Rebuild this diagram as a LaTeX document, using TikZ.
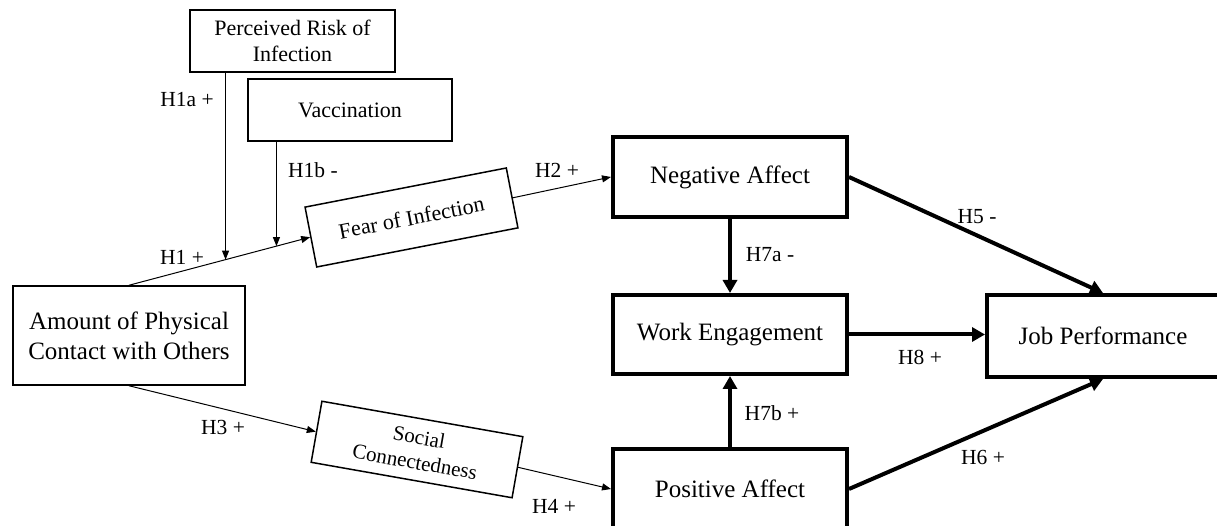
\documentclass[tikz,border=0pt]{standalone}
\usepackage{fontspec}
\setmainfont{Liberation Serif}
\usetikzlibrary{arrows.meta,calc}
\tikzset{
  smallbox/.style={draw, line width=1.5pt, align=center, inner sep=0pt,
    font=\fontsize{22}{26}\selectfont, minimum width=205pt, minimum height=62pt},
  bigbox/.style={draw, line width=4pt, inner sep=0pt,
    font=\fontsize{25}{30}\selectfont, minimum width=234pt, minimum height=80pt},
  thinarrow/.style={-{Triangle[length=9pt,width=7pt]}, line width=1pt},
  thickarrow/.style={-{Triangle[length=13pt,width=14pt]}, line width=4pt},
  hyplabel/.style={font=\fontsize{21.5}{26}\selectfont, inner sep=0pt},
}
\begin{document}
\begin{tikzpicture}[x=1pt, y=1pt]
    \useasboundingbox (0,0) rectangle (1217,526);
    % left part
    \node[smallbox] (risk) at (292.5,485) {Perceived Risk of\\Infection};
    \node[smallbox, minimum width=204pt] (vacc) at (350,416) {Vaccination};
    \node[smallbox, minimum width=232pt, minimum height=99pt, font=\fontsize{25}{30}\selectfont]
      (amount) at (129,190.5) {Amount of Physical\\Contact with Others};
    \node[smallbox, rotate=11, minimum height=61pt] (fear) at (411.5,308.5) {Fear of Infection};
    \node[smallbox, rotate=-10, minimum width=204pt, font=\fontsize{21}{25}\selectfont]
      (social) at (417,76.5) {Social\\Connectedness};
    % right part
    \node[bigbox] (negative) at (730,349) {Negative Affect};
    \node[bigbox, minimum height=79pt] (work) at (730,191.5) {Work Engagement};
    \node[bigbox] (positive) at (730,37) {Positive Affect};
    \node[bigbox, minimum width=232pt, minimum height=82pt] (job) at (1103,190) {Job Performance};
    % thin paths
    \coordinate (mrisk) at ($(amount.north)!0.533!(fear.west)$);
    \coordinate (mvacc) at ($(amount.north)!0.814!(fear.west)$);
    \draw[thinarrow] (amount.north)--(fear.west);
    \draw[thinarrow] (risk.south -| mrisk)--(mrisk);
    \draw[thinarrow] (vacc.south -| mvacc)--(mvacc);
    \draw[thinarrow] (fear.east)--(negative.west);
    \draw[thinarrow] (amount.south)--(social.west);
    \draw[thinarrow] (social.east)--(positive.west);
    % thick paths
    \draw[thickarrow] (negative.south)--(work.north);
    \draw[thickarrow] (positive.north)--(work.south);
    \draw[thickarrow] (work.east)--(work.east -| job.west);
    \draw[thickarrow] (negative.east)--(job.north);
    \draw[thickarrow] (positive.east)--(job.south);
    % hypothesis labels
    \foreach \nm/\x/\y/\txt in {
      hia/187/426/{H1a +},
      hib/313/356/{H1b -},
      hi/182/269/{H1 +},
      hii/557/356/{H2 +},
      hiii/223/99/{H3 +},
      hiv/554/20/{H4 +},
      hv/977/309/{H5 -},
      hvi/983/69/{H6 +},
      hviia/770/271/{H7a -},
      hviib/772/113/{H7b +},
      hviii/920/169/{H8 +}
    }{
      \node[hyplabel] (\nm) at (\x,\y) {\txt};
    }
\end{tikzpicture}
\end{document}
